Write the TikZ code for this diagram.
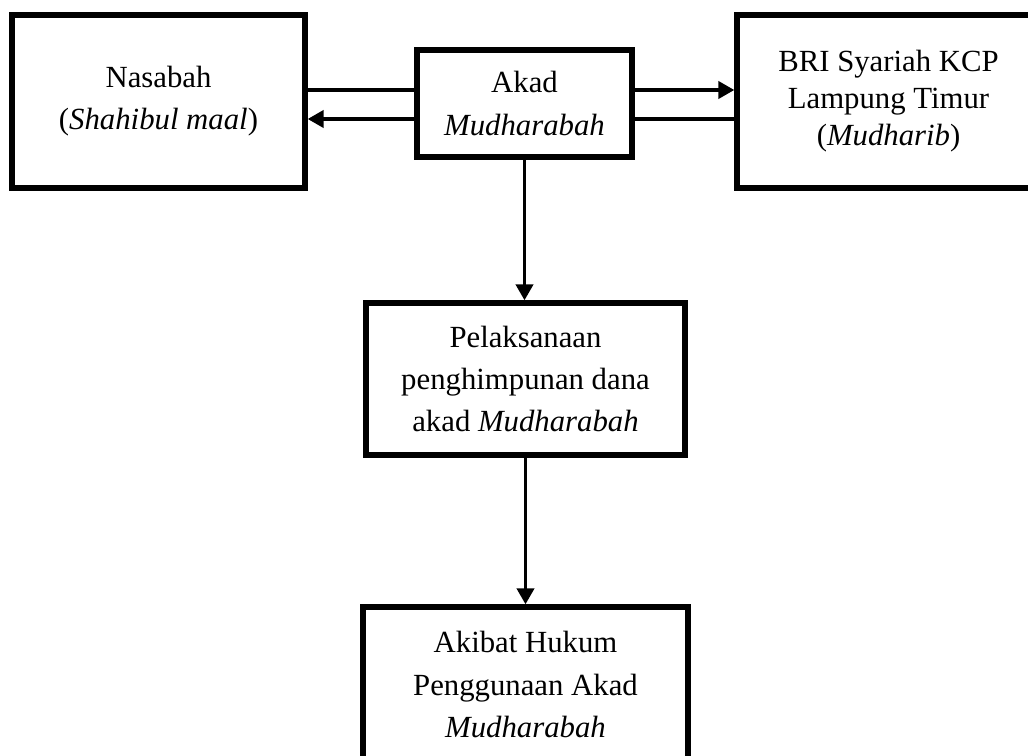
\documentclass[tikz,border=0pt]{standalone}
\usepackage{fontspec}
\setmainfont{Liberation Serif}
\usetikzlibrary{arrows.meta}
\tikzstyle{bx}=[draw, line width=3pt, align=center, inner sep=0, font=\fontsize{17.5}{24}\selectfont]
\tikzstyle{ln}=[line width=2.2pt]
\tikzstyle{ar}=[ln, -{Triangle[length=3.2mm, width=3.4mm]}]

\begin{document}
\begin{tikzpicture}
\useasboundingbox (0,0) rectangle (20.56,-15.1);
% top row
\node[bx, minimum width=5.86cm, minimum height=3.46cm] (nas) at (3.17,-2.03) {Nasabah\\(\textit{Shahibul maal})};
\node[bx, minimum width=4.3cm, minimum height=2.14cm] (akad) at (10.49,-2.07) {Akad\\\textit{Mudharabah}};
\node[bx, minimum width=6.06cm, minimum height=3.46cm, font=\fontsize{17.5}{21}\selectfont] (bri) at (17.77,-2.03) {BRI Syariah KCP\\Lampung Timur\\(\textit{Mudharib})};
% column
\node[bx, minimum width=6.38cm, minimum height=3.04cm] (pel) at (10.51,-7.58) {Pelaksanaan\\penghimpunan dana\\akad \textit{Mudharabah}};
\node[bx, minimum width=6.5cm, minimum height=3.1cm] (akb) at (10.51,-13.69) {Akibat Hukum\\Penggunaan Akad\\\textit{Mudharabah}};
% links
\draw[ln] (nas.east |- 0,-1.8) -- (akad.west |- 0,-1.8);
\draw[ar] (akad.west |- 0,-2.38) -- (nas.east |- 0,-2.38);
\draw[ar] (akad.east |- 0,-1.8) -- (bri.west |- 0,-1.8);
\draw[ln] (bri.west |- 0,-2.38) -- (akad.east |- 0,-2.38);
\draw[ar] (akad.south) -- (akad.south |- pel.north);
\draw[ar] (pel.south) -- (pel.south |- akb.north);
\end{tikzpicture}
\end{document}
